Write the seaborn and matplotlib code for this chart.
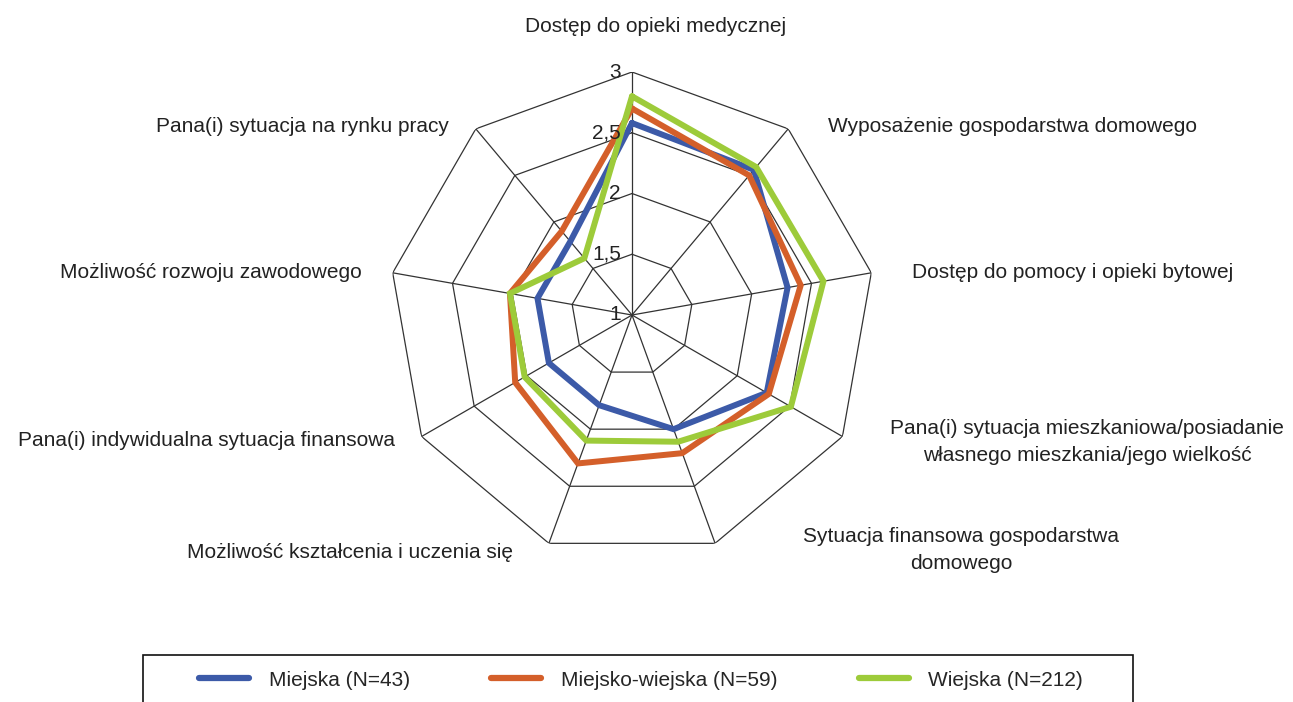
"""Radar chart: ocena sytuacji wg typu gminy"""

import numpy as np
import pandas as pd
import seaborn as sns
import matplotlib.pyplot as plt
from matplotlib import transforms
from matplotlib.lines import Line2D
from matplotlib.patches import Rectangle

# DATA
categories = [
    "Dostęp do opieki medycznej",
    "Wyposażenie gospodarstwa domowego",
    "Dostęp do pomocy i opieki bytowej",
    "Pana(i) sytuacja mieszkaniowa/posiadanie\nwłasnego mieszkania/jego wielkość",
    "Sytuacja finansowa gospodarstwa\ndomowego",
    "Możliwość kształcenia i uczenia się",
    "Pana(i) indywidualna sytuacja finansowa",
    "Możliwość rozwoju zawodowego",
    "Pana(i) sytuacja na rynku pracy",
]
series_names = ["Miejska (N=43)", "Miejsko-wiejska (N=59)", "Wiejska (N=212)"]
miejska = [2.58, 2.56, 2.30, 2.28, 2.00, 1.79, 1.79, 1.79, 1.79]
miejsko_wiejska = [2.70, 2.50, 2.41, 2.30, 2.21, 2.30, 2.11, 2.02, 1.90]
wiejska = [2.80, 2.59, 2.60, 2.51, 2.11, 2.10, 2.02, 2.02, 1.61]
tick_values = [1, 1.5, 2, 2.5, 3]
tick_labels = ["1", "1,5", "2", "2,5", "3"]
colors = ["#3C5AA8", "#D45F2A", "#9DCB3A"]

# figure geometry in pixels (from the reference)
W, H = 1293, 702
cx, cy, R = 632, 315, 243

n = len(categories)
theta = np.arange(n) * 2 * np.pi / n
theta_closed = np.append(theta, 2 * np.pi)

rows = []
for name, vals in zip(series_names, [miejska, miejsko_wiejska, wiejska]):
    for t, v in zip(theta_closed, vals + vals[:1]):
        rows.append({"group": name, "theta": t, "value": v})
df = pd.DataFrame(rows)

sns.set_style("white")
plt.rcParams["font.family"] = ["Liberation Sans", "DejaVu Sans"]

fig = plt.figure(figsize=(W / 100, H / 100), dpi=100)
ax = fig.add_axes([(cx - R) / W, 1 - (cy + R) / H, 2 * R / W, 2 * R / H], projection="polar")
ax.set_theta_zero_location("N")
ax.set_theta_direction(-1)
ax.set_ylim(1, 3)
ax.grid(False)
ax.spines["polar"].set_visible(False)
ax.set_xticks([])
ax.set_yticks([])

# polygon grid + spokes
grid_kw = dict(color="#333333", lw=0.9, zorder=1)
for r in tick_values[1:]:
    ax.plot(theta_closed, [r] * len(theta_closed), **grid_kw)
for t in theta:
    ax.plot([t, t], [1, 3], **grid_kw)

sns.lineplot(data=df, x="theta", y="value", hue="group", hue_order=series_names,
             palette=colors, sort=False, estimator=None, lw=4.3,
             solid_joinstyle="miter", legend=False, ax=ax, zorder=3)
ax.set_xlabel("")
ax.set_ylabel("")

# radial tick labels left of the top spoke
off = transforms.offset_copy(ax.transData, fig=fig, x=-11, y=0, units="dots")
for v, lab in zip(tick_values, tick_labels):
    ax.text(0, v, lab, transform=off, ha="right", va="center", fontsize=15, color="#222222", zorder=4)

# category labels (pixel positions taken from reference)
label_pos = [
    (656, 27, "center"),
    (828, 126, "left"),
    (912, 273, "left"),
    (1087, 442, "center"),
    (961, 550, "center"),
    (513, 552, "right"),
    (395, 441, "right"),
    (362, 273, "right"),
    (449, 126, "right"),
]
for lab, (x, y, ha) in zip(categories, label_pos):
    fig.text(x / W, 1 - y / H, lab, ha=ha, va="center", fontsize=15,
             color="#222222", linespacing=1.5, multialignment="center")

# legend with box cut by the bottom edge
handles = [Line2D([], [], color=c, lw=4.5) for c in colors]
fig.legend(handles, series_names, loc="center", bbox_to_anchor=(641 / W, 1 - 680 / H),
           ncol=3, frameon=False, fontsize=15, handlelength=2.4, handletextpad=0.95,
           columnspacing=3.9)
fig.patches.append(Rectangle((143 / W, -0.05), (1133 - 143) / W, (702 - 655) / H + 0.05,
                             transform=fig.transFigure, fill=False, edgecolor="#111111", lw=1.2))

fig.savefig("out.png", dpi=100)
